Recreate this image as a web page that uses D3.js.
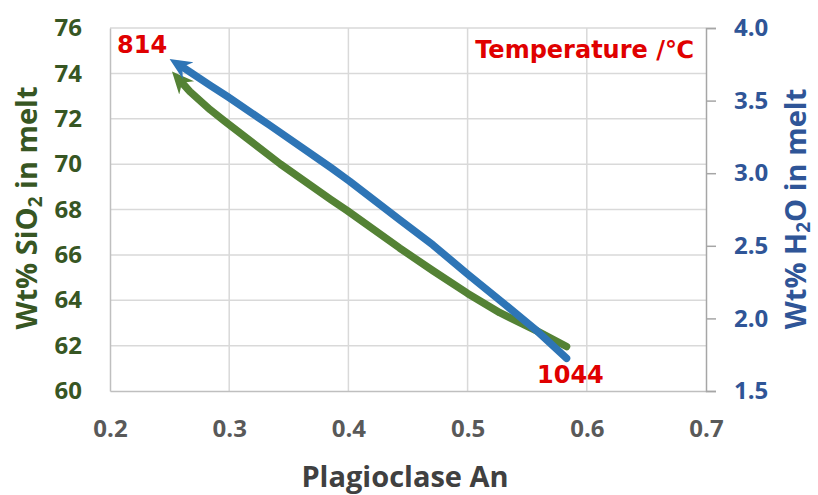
<!DOCTYPE html>
<html>
<head>
<meta charset="utf-8">
<script src="https://cdn.jsdelivr.net/npm/d3@7"></script>
<style>
  html, body { margin: 0; padding: 0; background: #fff; }
  svg { display: block; }
</style>
</head>
<body>
<svg id="chart" width="818" height="495"></svg>
<script>
// Plagioclase anorthite content along the cooling path (1044 → 814 °C)
const anSiO2 = [0.583, 0.558, 0.527, 0.500, 0.471, 0.443, 0.399, 0.385, 0.343, 0.296, 0.284, 0.267, 0.252];
const siO2   = [61.96, 62.65, 63.45, 64.30, 65.30, 66.30, 67.95, 68.45, 70.00, 71.90, 72.40, 73.20, 74.08];

const anH2O  = [0.583, 0.558, 0.530, 0.500, 0.471, 0.443, 0.401, 0.385, 0.334, 0.299, 0.284, 0.261, 0.250];
const h2o    = [1.725, 1.915, 2.105, 2.305, 2.505, 2.680, 2.945, 3.040, 3.330, 3.525, 3.605, 3.730, 3.787];

const xTicks      = [0.2, 0.3, 0.4, 0.5, 0.6, 0.7];
const leftTicks   = [60, 62, 64, 66, 68, 70, 72, 74, 76];
const rightTicks  = [1.5, 2.0, 2.5, 3.0, 3.5, 4.0];

const tempStart = "1044";
const tempEnd   = "814";

const svg = d3.select("#chart");
const L = 110, R = 706, T = 28, B = 391;

const x  = d3.scaleLinear().domain([0.2, 0.7]).range([L, R]);
const yL = d3.scaleLinear().domain([60, 76]).range([B, T]);
const yR = d3.scaleLinear().domain([1.5, 4.0]).range([B, T]);

const green = "#548235", blue = "#2E75B6";
const labelFont = "'Open Sans', sans-serif";

// gridlines
const grid = svg.append("g").attr("stroke", "#D9D9D9").attr("stroke-width", 1.5);
grid.selectAll("line.v").data(xTicks.slice(1, -1)).join("line")
  .attr("x1", d => x(d)).attr("x2", d => x(d)).attr("y1", T).attr("y2", B);
grid.selectAll("line.h").data(leftTicks.slice(1)).join("line")
  .attr("x1", L).attr("x2", R).attr("y1", d => yL(d)).attr("y2", d => yL(d));

// axes
const axisColor = "#BFBFBF";
const gx = svg.append("g").attr("transform", `translate(0,${B})`)
  .call(d3.axisBottom(x).tickValues(xTicks).tickSize(0).tickPadding(29).tickFormat(d3.format(".1f")));
gx.select(".domain").attr("stroke", axisColor).attr("stroke-width", 1.5);
gx.selectAll("text").attr("fill", "#595959").attr("font-family", labelFont)
  .attr("font-weight", 700).attr("font-size", 24);

const gl = svg.append("g").attr("transform", `translate(${L},0)`)
  .call(d3.axisLeft(yL).tickValues(leftTicks).tickSize(0).tickPadding(28).tickFormat(d3.format("d")));
gl.select(".domain").attr("stroke", axisColor).attr("stroke-width", 1.5);
gl.selectAll("text").attr("fill", "#375623").attr("font-family", labelFont)
  .attr("font-weight", 700).attr("font-size", 24);

const gr = svg.append("g").attr("transform", `translate(${R},0)`)
  .call(d3.axisRight(yR).tickValues(rightTicks).tickSize(10).tickPadding(18).tickFormat(d3.format(".1f")));
gr.select(".domain").attr("stroke", "#A6A6A6").attr("stroke-width", 1.5);
gr.selectAll(".tick line").attr("stroke", "#A6A6A6").attr("stroke-width", 1.5);
gr.selectAll("text").attr("fill", "#2F5597").attr("font-family", labelFont)
  .attr("font-weight", 700).attr("font-size", 24);

// arrowheads
const defs = svg.append("defs");
[["arrowGreen", green], ["arrowBlue", blue]].forEach(([id, c]) => {
  defs.append("marker").attr("id", id)
    .attr("markerUnits", "userSpaceOnUse")
    .attr("markerWidth", 26).attr("markerHeight", 26)
    .attr("refX", 11).attr("refY", 10).attr("orient", "auto")
    .append("path").attr("d", "M22,10 L0,0 L7,10 L0,20 Z").attr("fill", c);
});

// series: pixel points, last segment stopped short so the arrowhead tip lands on the final value
function seriesPoints(xs, ys, yScale) {
  const pts = xs.map((v, i) => [x(v), yScale(ys[i])]);
  const n = pts.length;
  const [ax, ay] = pts[n - 2], [bx, by] = pts[n - 1];
  const len = Math.hypot(bx - ax, by - ay);
  pts[n - 1] = [bx - (bx - ax) / len * 11, by - (by - ay) / len * 11];
  return pts;
}
const line = d3.line();

svg.append("path").datum(seriesPoints(anSiO2, siO2, yL))
  .attr("d", line).attr("fill", "none").attr("stroke", green)
  .attr("stroke-width", 7.5).attr("stroke-linejoin", "round").attr("stroke-linecap", "round")
  .attr("marker-end", "url(#arrowGreen)");

svg.append("path").datum(seriesPoints(anH2O, h2o, yR))
  .attr("d", line).attr("fill", "none").attr("stroke", blue)
  .attr("stroke-width", 7.5).attr("stroke-linejoin", "round").attr("stroke-linecap", "round")
  .attr("marker-end", "url(#arrowBlue)");

// temperature annotations
const red = "#E00000";
const redFont = "'DejaVu Sans', sans-serif";
svg.append("text").attr("x", 117).attr("y", 53).text(tempEnd)
  .attr("fill", red).attr("font-family", redFont).attr("font-weight", 700).attr("font-size", 24);
svg.append("text").attr("x", 537).attr("y", 383).text(tempStart)
  .attr("fill", red).attr("font-family", redFont).attr("font-weight", 700).attr("font-size", 24);
svg.append("text").attr("x", 694).attr("y", 58).attr("text-anchor", "end").text("Temperature /℃")
  .attr("fill", red).attr("font-family", redFont).attr("font-weight", 700).attr("font-size", 24);

// axis titles
svg.append("text").attr("x", 405).attr("y", 487).attr("text-anchor", "middle")
  .text("Plagioclase An").attr("fill", "#404040").attr("font-family", labelFont)
  .attr("font-weight", 700).attr("font-size", 29);

const lt = svg.append("text").attr("transform", "translate(37,208) rotate(-90)")
  .attr("text-anchor", "middle").attr("fill", "#375623").attr("font-family", labelFont)
  .attr("font-weight", 700).attr("font-size", 29);
lt.append("tspan").text("Wt% SiO");
lt.append("tspan").text("2").attr("font-size", 19).attr("dy", 5);
lt.append("tspan").text(" in melt").attr("dy", -5);

const rt = svg.append("text").attr("transform", "translate(806,209) rotate(-90)")
  .attr("text-anchor", "middle").attr("fill", "#2F5597").attr("font-family", labelFont)
  .attr("font-weight", 700).attr("font-size", 29);
rt.append("tspan").text("Wt% H");
rt.append("tspan").text("2").attr("font-size", 19).attr("dy", 4);
rt.append("tspan").text("O in melt").attr("dy", -4);
</script>
</body>
</html>
